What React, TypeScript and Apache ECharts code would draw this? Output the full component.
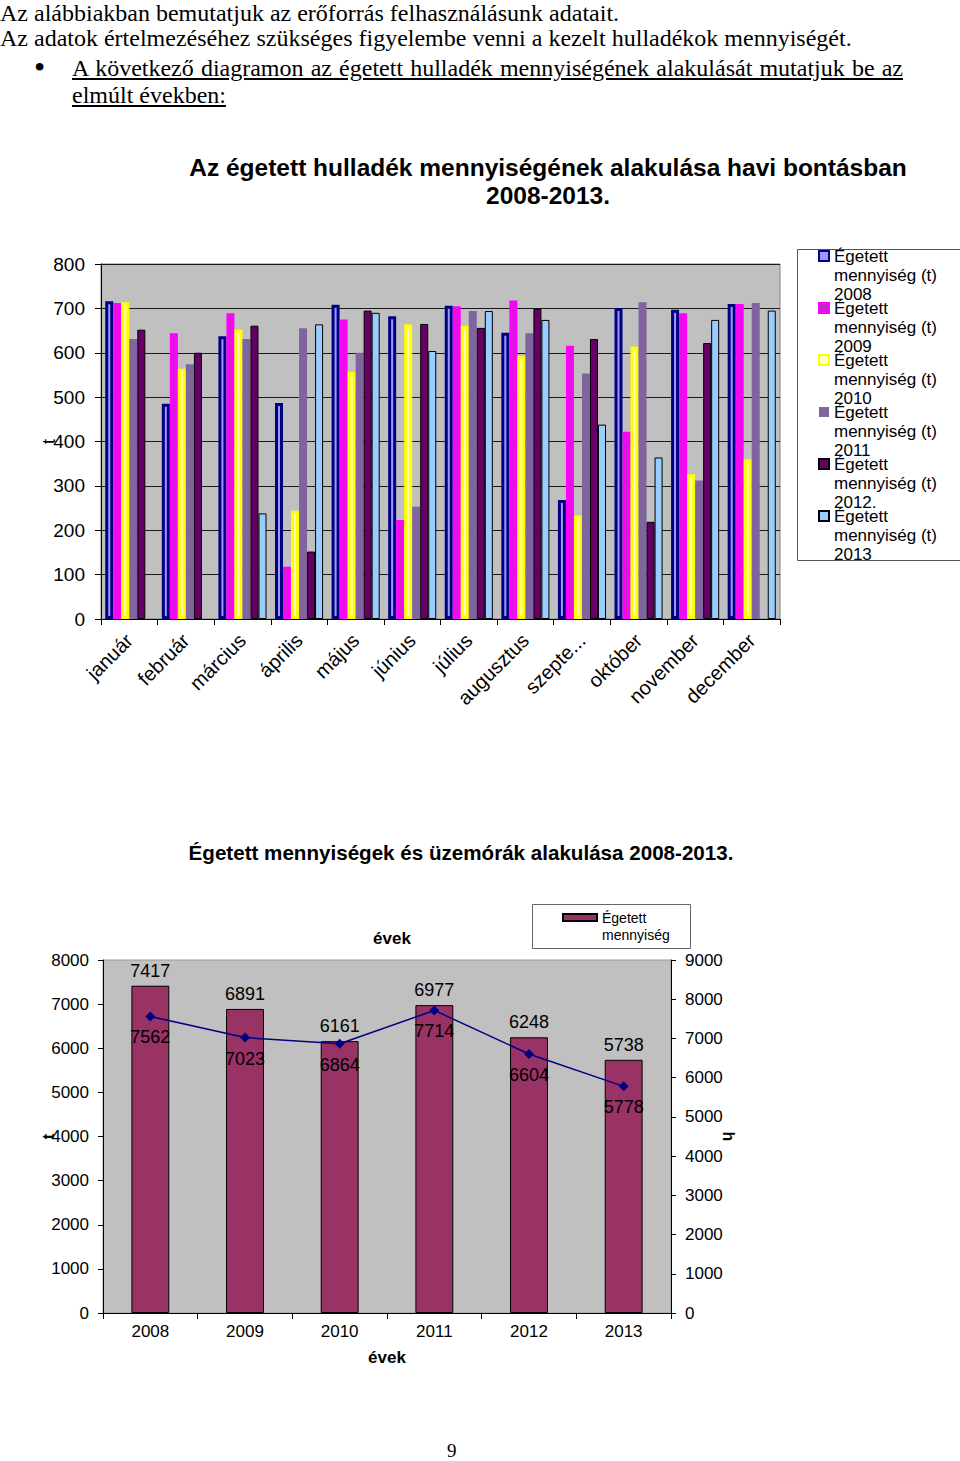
import React, { useEffect, useRef } from 'react';
import * as echarts from 'echarts';

const months = ['január', 'február', 'március', 'április', 'május', 'június', 'július', 'augusztus', 'szeptember', 'október', 'november', 'december'];
const monthTickLabels = ['január', 'február', 'március', 'április', 'május', 'június', 'július', 'augusztus', 'szepte...', 'október', 'november', 'december'];

const seriesNames = [
  'Égetett mennyiség (t) 2008',
  'Égetett mennyiség (t) 2009',
  'Égetett mennyiség (t) 2010',
  'Égetett mennyiség (t) 2011',
  'Égetett mennyiség (t) 2012.',
  'Égetett mennyiség (t) 2013',
];

const v2008 = [716, 485, 637, 487, 708, 682, 706, 645, 268, 701, 697, 710];
const v2009 = [712, 644, 689, 118, 675, 223, 705, 718, 616, 422, 689, 710];
const v2010 = [714, 564, 652, 244, 557, 664, 661, 592, 233, 614, 326, 360];
const v2011 = [631, 574, 631, 655, 600, 253, 694, 644, 553, 714, 312, 712];
const v2012 = [652, 600, 661, 152, 695, 665, 656, 699, 631, 219, 622, null];
const v2013 = [null, null, 238, 664, 690, 604, 694, 674, 438, 364, 674, 695];

const years = ['2008', '2009', '2010', '2011', '2012', '2013'];
const burned = [7417, 6891, 6161, 6977, 6248, 5738];
const hours = [7562, 7023, 6864, 7714, 6604, 5778];

const FONT = '"Liberation Sans", Arial, sans-serif';

const barStyles = [
  { color: '#9999ff', borderColor: '#000080', borderWidth: 3 },
  { color: '#cc22cc', borderColor: '#ff00ff', borderWidth: 3 },
  { color: '#ffffbb', borderColor: '#ffff00', borderWidth: 3 },
  { color: '#8064a0', borderColor: '#8064a0', borderWidth: 0 },
  { color: '#660066', borderColor: '#000000', borderWidth: 1 },
  { color: '#99ccff', borderColor: '#000000', borderWidth: 1 },
];

const monthlyValues = [v2008, v2009, v2010, v2011, v2012, v2013];

function buildOption() {
  const topSeries = monthlyValues.map((vals, i) => ({
    name: seriesNames[i],
    type: 'bar',
    xAxisIndex: 0,
    yAxisIndex: 0,
    data: vals,
    barGap: '0%',
    barCategoryGap: '15%',
    itemStyle: barStyles[i],
  }));

  const plain = (v: number) => String(v);

  return {
    animation: false,
    backgroundColor: '#ffffff',
    textStyle: { fontFamily: FONT, color: '#000' },
    title: [
      {
        text: 'Az égetett hulladék mennyiségének alakulása havi bontásban\n2008-2013.',
        left: 548,
        top: 153,
        padding: 0,
        textAlign: 'center',
        textStyle: { fontFamily: FONT, fontSize: 24.5, fontWeight: 'bold', lineHeight: 28, color: '#000' },
      },
      {
        text: 'Égetett mennyiségek és üzemórák alakulása 2008-2013.',
        left: 461,
        top: 840,
        padding: 0,
        textAlign: 'center',
        textStyle: { fontFamily: FONT, fontSize: 20.6, fontWeight: 'bold', lineHeight: 24, color: '#000' },
      },
      {
        text: 'évek',
        left: 392,
        top: 928,
        padding: 0,
        textAlign: 'center',
        textStyle: { fontFamily: FONT, fontSize: 17, fontWeight: 'bold', lineHeight: 20, color: '#000' },
      },
    ],
    graphic: [
      {
        type: 'rect',
        shape: { x: 797.5, y: 249.5, width: 175, height: 311 },
        style: { fill: '#ffffff', stroke: '#555555', lineWidth: 1 },
      },
      {
        type: 'rect',
        shape: { x: 532.5, y: 904.5, width: 158, height: 44 },
        style: { fill: '#ffffff', stroke: '#666666', lineWidth: 1 },
      },
    ],
    legend: [
      {
        data: seriesNames,
        orient: 'vertical',
        left: 818,
        top: 208.5,
        padding: 0,
        itemWidth: 10,
        itemHeight: 10,
        itemGap: -43,
        icon: 'rect',
        selectedMode: false,
        formatter: (name: string) => '\n\n' + name.replace(' mennyiség', '\nmennyiség').replace('(t) ', '(t)\n'),
        textStyle: { fontFamily: FONT, fontSize: 17, lineHeight: 19, color: '#000' },
      },
      {
        data: ['Égetett mennyiség'],
        orient: 'vertical',
        left: 562,
        top: 892,
        padding: 0,
        itemWidth: 34,
        itemHeight: 7,
        icon: 'rect',
        selectedMode: false,
        formatter: () => '\nÉgetett\nmennyiség',
        textStyle: { fontFamily: FONT, fontSize: 14, lineHeight: 17, color: '#000' },
      },
    ],
    grid: [
      {
        left: 101,
        top: 264,
        width: 679,
        height: 355,
        show: true,
        backgroundColor: '#c0c0c0',
        borderColor: '#808080',
        borderWidth: 1,
      },
      {
        left: 103,
        top: 960,
        width: 568,
        height: 353,
        show: true,
        backgroundColor: '#c0c0c0',
        borderColor: '#999999',
        borderWidth: 1,
      },
    ],
    xAxis: [
      {
        gridIndex: 0,
        type: 'category',
        data: months,
        axisLine: { show: true, lineStyle: { color: '#000', width: 1 } },
        axisTick: { show: true, interval: 0, length: 6, lineStyle: { color: '#000' } },
        axisLabel: {
          interval: 0,
          rotate: 45,
          fontSize: 20,
          margin: 18,
          color: '#000',
          fontFamily: FONT,
          formatter: (v: string) => monthTickLabels[months.indexOf(v)],
        },
      },
      {
        gridIndex: 1,
        type: 'category',
        data: years,
        name: 'évek',
        nameLocation: 'middle',
        nameGap: 36,
        nameMoveOverlap: false,
        nameTextStyle: { fontFamily: FONT, fontSize: 17, fontWeight: 'bold', color: '#000' },
        axisLine: { show: true, lineStyle: { color: '#000', width: 1 } },
        axisTick: { show: true, interval: 0, length: 6, lineStyle: { color: '#000' } },
        axisLabel: { interval: 0, fontSize: 17, margin: 10, color: '#000', fontFamily: FONT },
      },
    ],
    yAxis: [
      {
        gridIndex: 0,
        type: 'value',
        min: 0,
        max: 800,
        interval: 100,
        name: 't',
        nameLocation: 'middle',
        nameGap: 43,
        nameRotate: 90,
        nameMoveOverlap: false,
        nameTextStyle: { fontFamily: FONT, fontSize: 18, color: '#000' },
        axisLine: { show: true, lineStyle: { color: '#000', width: 1 } },
        axisTick: { show: true, length: 6, lineStyle: { color: '#000' } },
        splitLine: { show: true, lineStyle: { color: '#1a1a1a', width: 1 } },
        axisLabel: { fontSize: 19, margin: 16, color: '#000', fontFamily: FONT, formatter: plain },
      },
      {
        gridIndex: 1,
        type: 'value',
        min: 0,
        max: 8000,
        interval: 1000,
        name: 't',
        nameLocation: 'middle',
        nameGap: 47,
        nameRotate: 90,
        nameMoveOverlap: false,
        nameTextStyle: { fontFamily: FONT, fontSize: 16, fontWeight: 'bold', color: '#000' },
        axisLine: { show: true, lineStyle: { color: '#000', width: 1 } },
        axisTick: { show: true, length: 5, lineStyle: { color: '#000' } },
        splitLine: { show: false },
        axisLabel: { fontSize: 17, margin: 14, color: '#000', fontFamily: FONT, formatter: plain },
      },
      {
        gridIndex: 1,
        type: 'value',
        position: 'right',
        min: 0,
        max: 9000,
        interval: 1000,
        name: 'h',
        nameLocation: 'middle',
        nameGap: 49,
        nameRotate: -90,
        nameMoveOverlap: false,
        nameTextStyle: { fontFamily: FONT, fontSize: 16, fontWeight: 'bold', color: '#000' },
        axisLine: { show: true, lineStyle: { color: '#000', width: 1 } },
        axisTick: { show: true, length: 5, lineStyle: { color: '#000' } },
        splitLine: { show: false },
        axisLabel: { fontSize: 17, margin: 14, color: '#000', fontFamily: FONT, formatter: plain },
      },
    ],
    series: [
      ...topSeries,
      {
        name: 'Égetett mennyiség',
        type: 'bar',
        xAxisIndex: 1,
        yAxisIndex: 1,
        data: burned,
        barWidth: '40%',
        itemStyle: { color: '#993366', borderColor: '#000', borderWidth: 1 },
        label: { show: true, position: 'top', distance: 6, fontSize: 18, color: '#000', fontFamily: FONT },
      },
      {
        name: 'üzemóra',
        type: 'line',
        xAxisIndex: 1,
        yAxisIndex: 2,
        data: hours,
        symbol: 'diamond',
        symbolSize: 10,
        itemStyle: { color: '#000080' },
        lineStyle: { color: '#000080', width: 1.5 },
        label: { show: true, position: 'bottom', distance: 7, fontSize: 18, color: '#000', fontFamily: FONT },
      },
    ],
  };
}

export default function App() {
  const ref = useRef<HTMLDivElement>(null);

  useEffect(() => {
    if (!ref.current) return;
    const chart = echarts.init(ref.current, null, { renderer: 'svg' });
    chart.setOption(buildOption() as any);
    return () => chart.dispose();
  }, []);

  const serif = '"Liberation Serif", "Times New Roman", serif';
  const line: React.CSSProperties = {
    position: 'absolute',
    fontFamily: serif,
    fontSize: 24,
    lineHeight: '22px',
    color: '#000',
    whiteSpace: 'nowrap',
  };

  return (
    <div style={{ position: 'absolute', left: 0, top: 0, width: 960, height: 1461, background: '#fff', overflow: 'hidden' }}>
      <div ref={ref} style={{ position: 'absolute', left: 0, top: 0, width: 960, height: 1461 }} />
      <div style={{ ...line, left: 0, top: 0, lineHeight: '26px' }}>Az alábbiakban bemutatjuk az erőforrás felhasználásunk adatait.</div>
      <div style={{ ...line, left: 0, top: 27 }}>Az adatok értelmezéséhez szükséges figyelembe venni a kezelt hulladékok mennyiségét.</div>
      <div style={{ ...line, left: 34, top: 56, fontSize: 32 }}>•</div>
      <div
        style={{
          ...line,
          left: 72,
          top: 57,
          width: 831,
          textDecoration: 'underline',
          textAlign: 'justify',
          textAlignLast: 'justify',
        }}
      >
        A következő diagramon az égetett hulladék mennyiségének alakulását mutatjuk be az
      </div>
      <div style={{ ...line, left: 72, top: 84, textDecoration: 'underline' }}>elmúlt években:</div>
      <div style={{ ...line, left: 447, top: 1440, fontSize: 19 }}>9</div>
    </div>
  );
}
